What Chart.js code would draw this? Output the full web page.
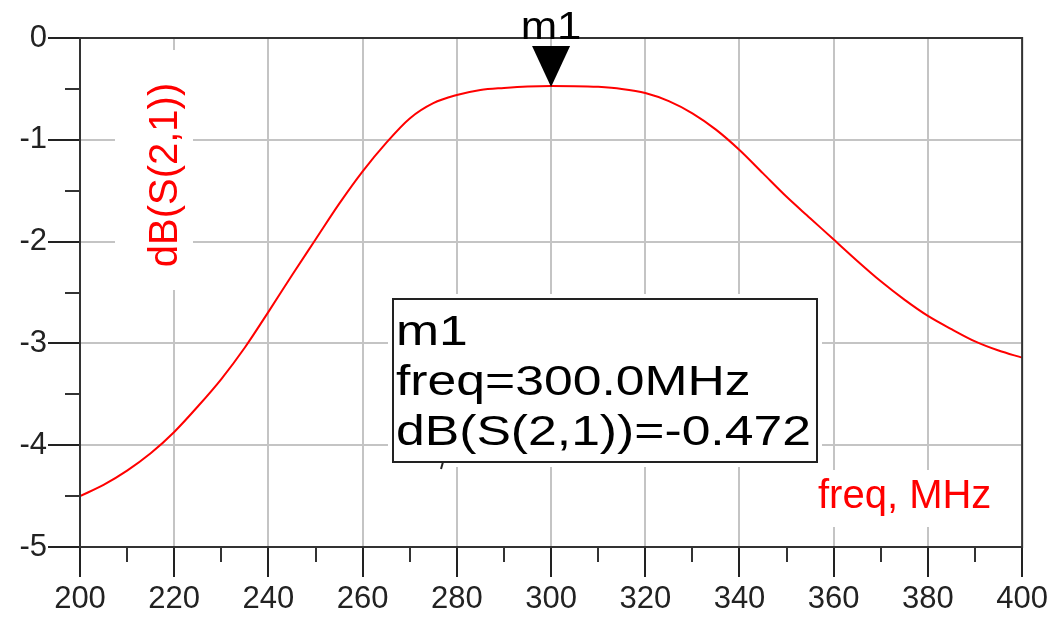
<!DOCTYPE html>
<html>
<head>
<meta charset="utf-8">
<script src="https://cdn.jsdelivr.net/npm/chart.js@4"></script>
<style>
  html, body { margin: 0; padding: 0; background: #fff; }
  #wrap { width: 1052px; height: 619px; }
</style>
</head>
<body>
<div id="wrap"><canvas id="c" width="1052" height="619"></canvas></div>
<script>
// values
const freqs = [200, 205, 210, 215, 220, 225, 230, 235, 240, 245, 250, 255, 260, 265, 270, 275, 280, 285, 290, 295,
    300, 305, 310, 315, 320, 325, 330, 335, 340, 345, 350, 355, 360, 365, 370, 375, 380, 385, 390, 395, 400];
const s21_db = [-4.50, -4.39, -4.25, -4.08, -3.87, -3.62, -3.35, -3.04, -2.69, -2.33, -1.98, -1.63, -1.31, -1.03, -0.79, -0.64, -0.56, -0.51, -0.49, -0.476,
    -0.472, -0.473, -0.48, -0.50, -0.54, -0.62, -0.74, -0.90, -1.10, -1.33, -1.56, -1.77, -1.98, -2.19, -2.39, -2.57, -2.73, -2.86, -2.98, -3.07, -3.14];
const x_minor = [210, 230, 250, 270, 290, 310, 330, 350, 370, 390];
const y_minor = [-0.5, -1.5, -2.5, -3.5, -4.5];
const marker_freq = 300;
const marker_val = -0.472;
const marker_lines = ['m1', 'freq=300.0MHz', 'dB(S(2,1))=-0.472'];

const FONT = "'Liberation Sans', Arial, sans-serif";

let points = [];
for (let i = 0; i < freqs.length; i++) {
    points.push({x: freqs[i], y: s21_db[i]});
}

// stretched text, ADS font is wider than Arial
function wideText(ctx, txt, x, y, sx) {
    ctx.save();
    ctx.translate(x, y);
    ctx.scale(sx, 1);
    ctx.fillText(txt, 0, 0);
    ctx.restore();
}

const decorations = {
    id: 'decorations',
    beforeDatasetsDraw(chart) {
        const ctx = chart.ctx;
        // white backgrounds that cut the grid
        ctx.save();
        ctx.fillStyle = '#fff';
        ctx.fillRect(115, 50, 78, 240);
        ctx.fillRect(810, 470, 192, 57);
        ctx.fillRect(388, 294, 434, 173);
        ctx.restore();
    },
    afterDraw(chart) {
        const ctx = chart.ctx;
        const a = chart.chartArea;
        const xs = chart.scales.x, ys = chart.scales.y;

        ctx.save();
        // frame
        ctx.strokeStyle = '#333';
        ctx.lineWidth = 2;
        ctx.strokeRect(a.left, a.top, a.right - a.left, a.bottom - a.top);

        // minor ticks
        ctx.beginPath();
        for (let v of x_minor) {
            let px = Math.round(xs.getPixelForValue(v));
            ctx.moveTo(px, a.bottom);
            ctx.lineTo(px, a.bottom + 15);
        }
        for (let v of y_minor) {
            let py = Math.round(ys.getPixelForValue(v));
            ctx.moveTo(a.left, py);
            ctx.lineTo(a.left - 15, py);
        }
        ctx.stroke();

        // axis titles
        ctx.fillStyle = '#ff0000';
        ctx.font = '40px ' + FONT;
        ctx.textBaseline = 'middle';
        ctx.textAlign = 'center';
        ctx.save();
        ctx.translate(166, 175);
        ctx.rotate(-Math.PI / 2);
        ctx.fillText('dB(S(2,1))', 0, 0);
        ctx.restore();
        ctx.textAlign = 'left';
        ctx.textBaseline = 'alphabetic';
        ctx.fillText('freq, MHz', 818, 508);

        // marker box
        ctx.strokeStyle = '#222';
        ctx.lineWidth = 2;
        ctx.strokeRect(393, 299, 424, 163);
        ctx.beginPath();
        ctx.moveTo(443, 462);
        ctx.lineTo(441, 469);
        ctx.stroke();
        ctx.fillStyle = '#000';
        ctx.font = '42px ' + FONT;
        for (let i = 0; i < marker_lines.length; i++) {
            wideText(ctx, marker_lines[i], 396, 345 + i * 50, 1.23);
        }

        // marker triangle + name
        let mx = xs.getPixelForValue(marker_freq);
        let my = ys.getPixelForValue(marker_val);
        ctx.beginPath();
        ctx.moveTo(mx - 19, my - 40);
        ctx.lineTo(mx + 19, my - 40);
        ctx.lineTo(mx, my + 1);
        ctx.closePath();
        ctx.fill();
        ctx.font = '38px ' + FONT;
        ctx.textAlign = 'left';
        let w = ctx.measureText('m1').width * 1.15;
        wideText(ctx, 'm1', mx - w / 2, 39, 1.15);
        ctx.restore();
    }
};

new Chart(document.getElementById('c'), {
    type: 'line',
    data: {
        datasets: [{
            label: 'dB(S(2,1))',
            data: points,
            borderColor: '#ff0000',
            borderWidth: 2,
            pointRadius: 0,
            cubicInterpolationMode: 'monotone',
            fill: false
        }]
    },
    options: {
        responsive: false,
        animation: false,
        devicePixelRatio: 1,
        layout: { padding: { top: 38, right: 26, left: 0, bottom: 0 } },
        plugins: {
            legend: { display: false },
            tooltip: { enabled: false }
        },
        scales: {
            x: {
                type: 'linear',
                min: 200,
                max: 400,
                afterFit: function(s) { s.height = 72; },
                ticks: {
                    stepSize: 20,
                    color: '#222',
                    font: { family: FONT, size: 31 },
                    padding: 4,
                    maxRotation: 0
                },
                grid: {
                    color: '#c4c4c4',
                    lineWidth: 2,
                    tickLength: 30,
                    tickColor: '#222',
                    tickWidth: 2
                },
                border: { color: '#333', width: 2 }
            },
            y: {
                min: -5,
                max: 0,
                afterFit: function(s) { s.width = 80; },
                ticks: {
                    stepSize: 1,
                    color: '#222',
                    font: { family: FONT, size: 31 },
                    padding: 1,
                    callback: function(v) { return String(v); }
                },
                grid: {
                    color: '#c4c4c4',
                    lineWidth: 2,
                    tickLength: 32,
                    tickColor: '#222',
                    tickWidth: 2
                },
                border: { color: '#333', width: 2 }
            }
        }
    },
    plugins: [decorations]
});
</script>
</body>
</html>
